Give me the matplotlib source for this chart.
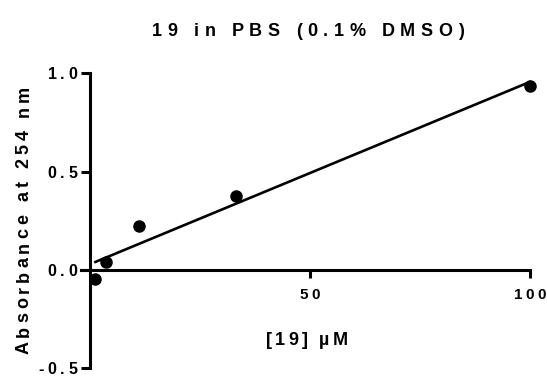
import matplotlib
matplotlib.use("Agg")
import matplotlib.pyplot as plt
import numpy as np
from matplotlib.text import Text
from matplotlib.transforms import IdentityTransform
from matplotlib.font_manager import findfont, get_font

try:
    from matplotlib.ft2font import LoadFlags
    _NOHINT = LoadFlags.NO_HINTING
except Exception:
    from matplotlib.ft2font import LOAD_NO_HINTING as _NOHINT

plt.rcParams['font.family'] = ['Liberation Sans', 'DejaVu Sans']

# Data
conc_uM = [1.23, 3.7, 11.1, 33.3, 100.0]
absorbance = [-0.046, 0.040, 0.225, 0.377, 0.935]
x_ticks = [50, 100]
x_tick_labels = ["50", "100"]
y_ticks = [-0.5, 0.0, 0.5, 1.0]
y_tick_labels = ["-0.5", "0.0", "0.5", "1.0"]
title = "19 in PBS (0.1% DMSO)"
xlabel = "[19] µM"
ylabel = "Absorbance at 254 nm"

# --- letter-spaced text rendering (Prism style) ---
_orig_draw = Text.draw


def _spaced_draw(self, renderer):
    if renderer is None or not self.get_visible():
        return
    s = self.get_text()
    if not s or '\n' in s or '$' in s:
        return _orig_draw(self, renderer)
    prop = self.get_fontproperties()
    fpx = renderer.points_to_pixels(prop.get_size_in_points())
    sp = getattr(self, '_ls_em', 0.2) * fpx
    font = get_font(findfont(prop))
    font.clear()
    font.set_size(prop.get_size_in_points(), renderer.dpi)
    advs = []
    for c in s:
        g = font.load_char(ord(c), flags=_NOHINT)
        advs.append(g.linearHoriAdvance / 65536.0)
    W = sum(advs) + sp * (len(s) - 1)
    _, h, d = renderer.get_text_width_height_descent(s, prop, ismath=False)
    _, lh, ld = renderer.get_text_width_height_descent('lp', prop, ismath=False)
    h = max(h, lh)
    d = max(d, ld)
    asc = h - d
    ha = self.get_horizontalalignment()
    va = self.get_verticalalignment()
    off_u = {'left': 0.0, 'center': -W / 2, 'right': -W}[ha]
    off_v = {'baseline': 0.0, 'top': -asc, 'bottom': d,
             'center': -(h / 2 - d), 'center_baseline': -asc / 2}[va]
    rot = self.get_rotation()
    th = np.deg2rad(rot)
    ux, uy = np.cos(th), np.sin(th)
    vx, vy = -np.sin(th), np.cos(th)
    x0, y0 = self._get_xy_display()
    pos = 0.0
    for c, a in zip(s, advs):
        if c != ' ':
            px = x0 + ux * (off_u + pos) + vx * off_v
            py = y0 + uy * (off_u + pos) + vy * off_v
            t = Text(px, py, c, fontproperties=prop, color=self.get_color(),
                     rotation=rot, rotation_mode='anchor', ha='left',
                     va='baseline', transform=IdentityTransform())
            t.set_figure(self.figure)
            _orig_draw(t, renderer)
        pos += a + sp


Text.draw = _spaced_draw

fig = plt.figure(figsize=(5.47, 3.77), dpi=100)
ax = fig.add_axes([0.1484, 0.0231, 0.8205, 0.7825])

ax.plot(conc_uM, absorbance, 'o', color='black', markersize=8, clip_on=False, zorder=3)

slope, intercept = np.polyfit(conc_uM, absorbance, 1)
xf = np.array([min(conc_uM), max(conc_uM)])
ax.plot(xf, slope * xf + intercept, '-', color='black', lw=1.9, clip_on=False)

ax.set_xlim(-2, 100)
ax.set_ylim(-0.5, 1.0)

for s in ['top', 'right']:
    ax.spines[s].set_visible(False)
ax.spines['left'].set_position(('data', 0))
ax.spines['bottom'].set_position(('data', 0))
for s in ['left', 'bottom']:
    ax.spines[s].set_linewidth(2.2)

ax.set_xticks(x_ticks)
ax.set_xticklabels(x_tick_labels, fontweight='bold', fontsize=11)
ax.set_yticks(y_ticks)
ax.set_yticklabels(y_tick_labels, fontweight='bold', fontsize=11.5)
ax.tick_params(axis='x', direction='out', length=5.5, width=2.2, pad=7.5)
ax.tick_params(axis='y', direction='out', length=6.5, width=2.2, pad=2.5)
for lbl in ax.get_xticklabels():
    lbl._ls_em = 0.2
for lbl in ax.get_yticklabels():
    lbl._ls_em = 0.24

t1 = fig.text(0.563, 0.905, title, ha='center', va='baseline', fontsize=13, fontweight='bold')
t1._ls_em = 0.31
t2 = fig.text(0.561, 0.085, xlabel, ha='center', va='baseline', fontsize=13, fontweight='bold')
t2._ls_em = 0.18
t3 = fig.text(0.044, 0.416, ylabel, ha='center', va='center', rotation=90, fontsize=13, fontweight='bold')
t3._ls_em = 0.22

fig.savefig("out.png", dpi=100)
